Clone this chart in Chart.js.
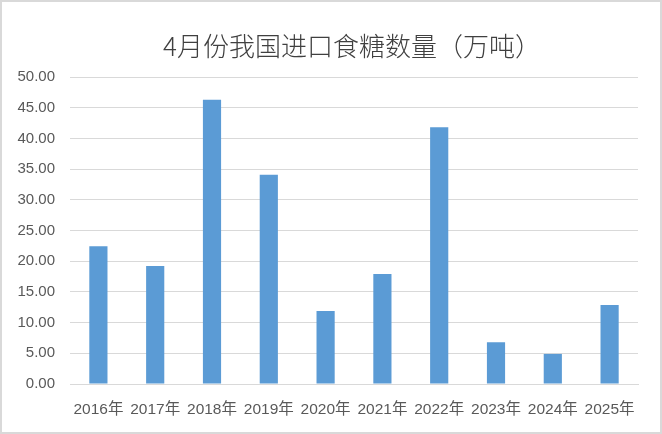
<!DOCTYPE html>
<html>
<head>
<meta charset="utf-8">
<script src="https://cdn.jsdelivr.net/npm/chart.js@4/dist/chart.umd.min.js"></script>
<style>
  html, body { margin: 0; padding: 0; background: #fff; }
  #wrap { width: 662px; height: 434px; position: relative; }
</style>
</head>
<body>
<div id="wrap"><canvas id="c" width="662" height="434"></canvas></div>
<script>
const titleText = '4月份我国进口食糖数量（万吨）';
const categories = ['2016年','2017年','2018年','2019年','2020年','2021年','2022年','2023年','2024年','2025年'];
const values = [22.45, 19.2, 46.3, 34.1, 11.9, 17.9, 41.8, 6.8, 4.9, 12.85];
const yTicks = { min: 0, max: 50, step: 5 };

const frame = {
  id: 'frame',
  beforeDraw(chart) {
    const ctx = chart.ctx;
    ctx.save();
    ctx.fillStyle = '#ffffff';
    ctx.fillRect(0, 0, chart.width, chart.height);
    ctx.restore();
  },
  afterDraw(chart) {
    const ctx = chart.ctx;
    const a = chart.chartArea;
    ctx.save();
    ctx.strokeStyle = '#d9d9d9';
    ctx.lineWidth = 2;
    ctx.strokeRect(1, 1, chart.width - 2, chart.height - 2);
    ctx.fillStyle = '#404040';
    ctx.font = '300 26px "Noto Sans CJK SC"';
    ctx.textAlign = 'center';
    ctx.textBaseline = 'middle';
    ctx.fillText(titleText, 352, 46);
    ctx.restore();
  }
};

new Chart(document.getElementById('c'), {
  type: 'bar',
  data: {
    labels: categories,
    datasets: [{
      data: values,
      backgroundColor: '#5B9BD5',
      borderWidth: 0,
      barPercentage: 0.32,
      categoryPercentage: 1.0
    }]
  },
  options: {
    responsive: false,
    animation: false,
    devicePixelRatio: 1,
    layout: { padding: { top: 77, right: 24, left: 0, bottom: 0 } },
    plugins: { legend: { display: false }, title: { display: false }, tooltip: { enabled: false } },
    scales: {
      x: {
        grid: { display: false, drawTicks: false },
        border: { color: '#d9d9d9', width: 1 },
        ticks: {
          autoSkip: false, maxRotation: 0, minRotation: 0, padding: 16,
          color: '#595959',
          font: { family: '"Liberation Sans", "Noto Sans CJK SC"', size: 15.5 }
        },
        afterFit(s) { s.height = 50; }
      },
      y: {
        min: yTicks.min, max: yTicks.max,
        grid: { color: '#d9d9d9', lineWidth: 1, drawTicks: false },
        border: { display: false },
        ticks: {
          stepSize: yTicks.step, padding: 15,
          color: '#595959',
          font: { family: '"Liberation Sans"', size: 15 },
          callback: v => Number(v).toFixed(2)
        },
        afterFit(s) { s.width = 70; }
      }
    }
  },
  plugins: [frame]
});
</script>
</body>
</html>
